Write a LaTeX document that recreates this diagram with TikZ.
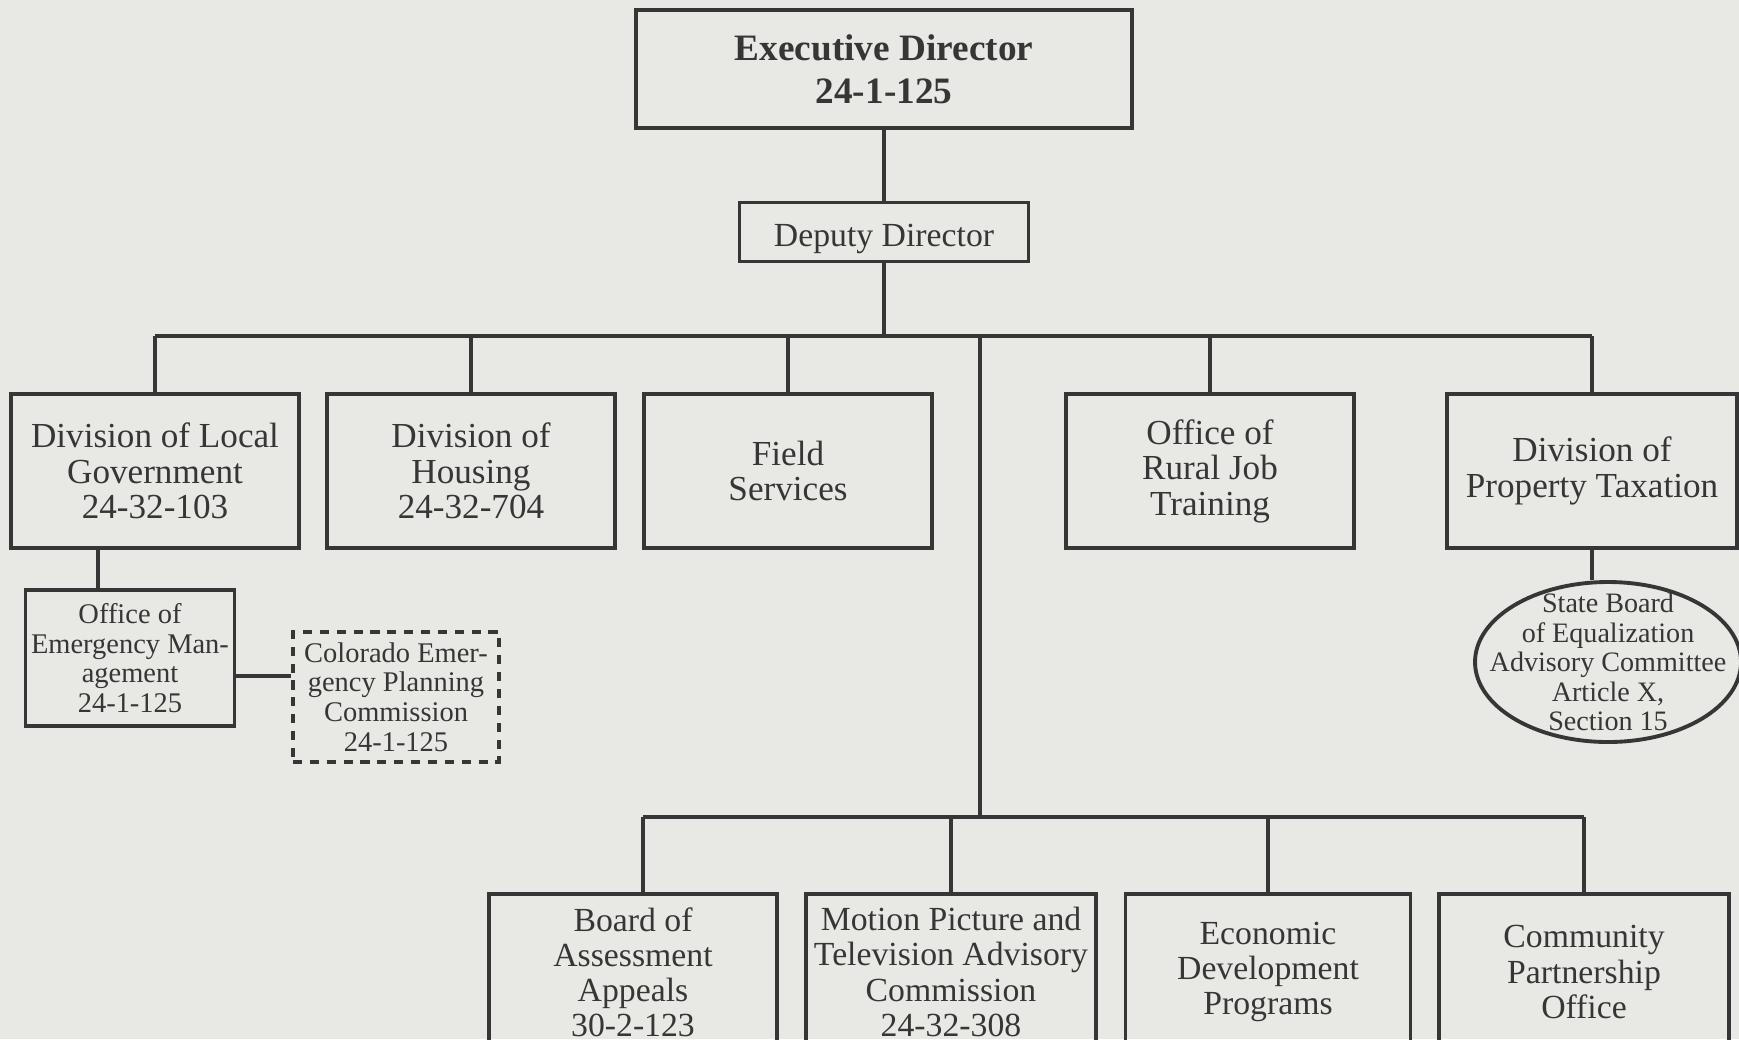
\documentclass[tikz,border=0pt]{standalone}
\usepackage{fontspec}
\setmainfont{Liberation Serif}
\usetikzlibrary{positioning, shapes.geometric}
\definecolor{paper}{HTML}{E8E8E5}
\definecolor{ink}{HTML}{363636}
\tikzset{
    every node/.style={text=ink, align=center}, % all labels centred
    unit/.style={draw=ink, line width=1.1pt, inner sep=0pt, minimum width=2.88cm, minimum height=1.54cm, font=\fontsize{10}{10.1}\selectfont}, % one box per office
    head/.style={unit, minimum width=4.96cm, minimum height=1.18cm, font=\fontsize{10.6}{12.3}\selectfont\bfseries},
    deputybox/.style={unit, minimum width=2.89cm, minimum height=0.59cm, text height=10.2pt, text depth=2.1pt, font=\fontsize{9.6}{10}\selectfont},
    subunit/.style={unit, minimum width=2.09cm, minimum height=1.36cm, font=\fontsize{8.1}{8.4}\selectfont},
    linked/.style={subunit, dashed, dash pattern=on 2.6pt off 2.2pt, minimum width=2.06cm, minimum height=1.30cm}, % dashed box
    board/.style={ellipse, draw=ink, line width=1.1pt, inner xsep=-0.3cm, inner ysep=-0.25cm, minimum width=2.66cm, minimum height=1.60cm, font=\fontsize{8}{8.4}\selectfont}, % text may touch the rim
    lower/.style={unit, minimum width=2.88cm, minimum height=1.56cm, font=\fontsize{9.6}{10}\selectfont},
    wire/.style={draw=ink, line width=0.9pt}, % connectors
}

\begin{document}
\begin{tikzpicture}[on grid, auto]
    \useasboundingbox (0,0) rectangle (17.39,-10.39);
    \fill[paper] (0,0) rectangle (17.39,-10.39);
    \clip (0,0) rectangle (17.39,-10.39);

    % Top
    \node[head] (exec) at (8.84,-0.69) {Executive Director\\24-1-125};
    \node[deputybox] (deputy) [below=1.63cm of exec] {Deputy Director};

    % First row
    \node[unit] (divlocal) at (1.55,-4.71) {Division of Local\\Government\\24-32-103};
    \node[unit] (housing) [right=3.16cm of divlocal] {Division of\\Housing\\24-32-704};
    \node[unit] (field) [right=3.17cm of housing] {Field\\Services};
    \node[unit] (rural) [right=4.22cm of field] {Office of\\Rural Job\\Training};
    \node[unit, minimum width=2.90cm] (proptax) [right=3.82cm of rural] {Division of\\Property Taxation};

    % Under the first row
    \node[subunit] (emergency) [below left=1.87cm and 0.25cm of divlocal] {Office of\\Emergency Man-\\agement\\24-1-125};
    \node[linked] (colorado) [below right=0.39cm and 2.66cm of emergency] {Colorado Emer-\\gency Planning\\Commission\\24-1-125};
    \node[board] (equal) [below right=1.91cm and 0.16cm of proptax] {State Board\\of Equalization\\Advisory Committee\\Article X,\\Section 15};

    % Second row
    \node[lower] (appeals) at (6.33,-9.72) {Board of\\Assessment\\Appeals\\30-2-123};
    \node[lower, minimum width=2.90cm] (motion) [right=3.18cm of appeals] {Motion Picture and\\Television Advisory\\Commission\\24-32-308};
    \node[lower, minimum width=2.85cm] (econ) [right=3.17cm of motion] {Economic\\Development\\Programs};
    \node[lower, minimum width=2.90cm] (community) [right=3.16cm of econ] {Community\\Partnership\\Office};

    % Bus points
    \coordinate (topbus) at (9.80,-3.36);
    \coordinate (lowbus) at (9.80,-8.17);

    % Lines
    \path[wire]
        (exec) -- (deputy)
        (deputy) -- (deputy.south |- topbus)
        (divlocal.north |- topbus) -- (proptax.north |- topbus)
        (topbus) -- (lowbus)
        ([xshift=0.1cm]appeals.north |- lowbus) -- (community.north |- lowbus)
        ([xshift=0.1cm]appeals.north) -- ([xshift=0.1cm]appeals.north |- lowbus)
        ([xshift=-0.32cm]emergency.north) -- ([xshift=-0.32cm]emergency.north |- divlocal.south)
        ([yshift=-0.18cm]emergency.east) -- ([yshift=-0.18cm]emergency.east -| colorado.west)
        (proptax.south) -- (proptax.south |- equal.north);
    \foreach \n in {divlocal, housing, field, rural, proptax}
        \path[wire] (\n.north) -- (\n.north |- topbus);
    \foreach \n in {motion, econ, community}
        \path[wire] (\n.north) -- (\n.north |- lowbus);

\end{tikzpicture}
\end{document}
